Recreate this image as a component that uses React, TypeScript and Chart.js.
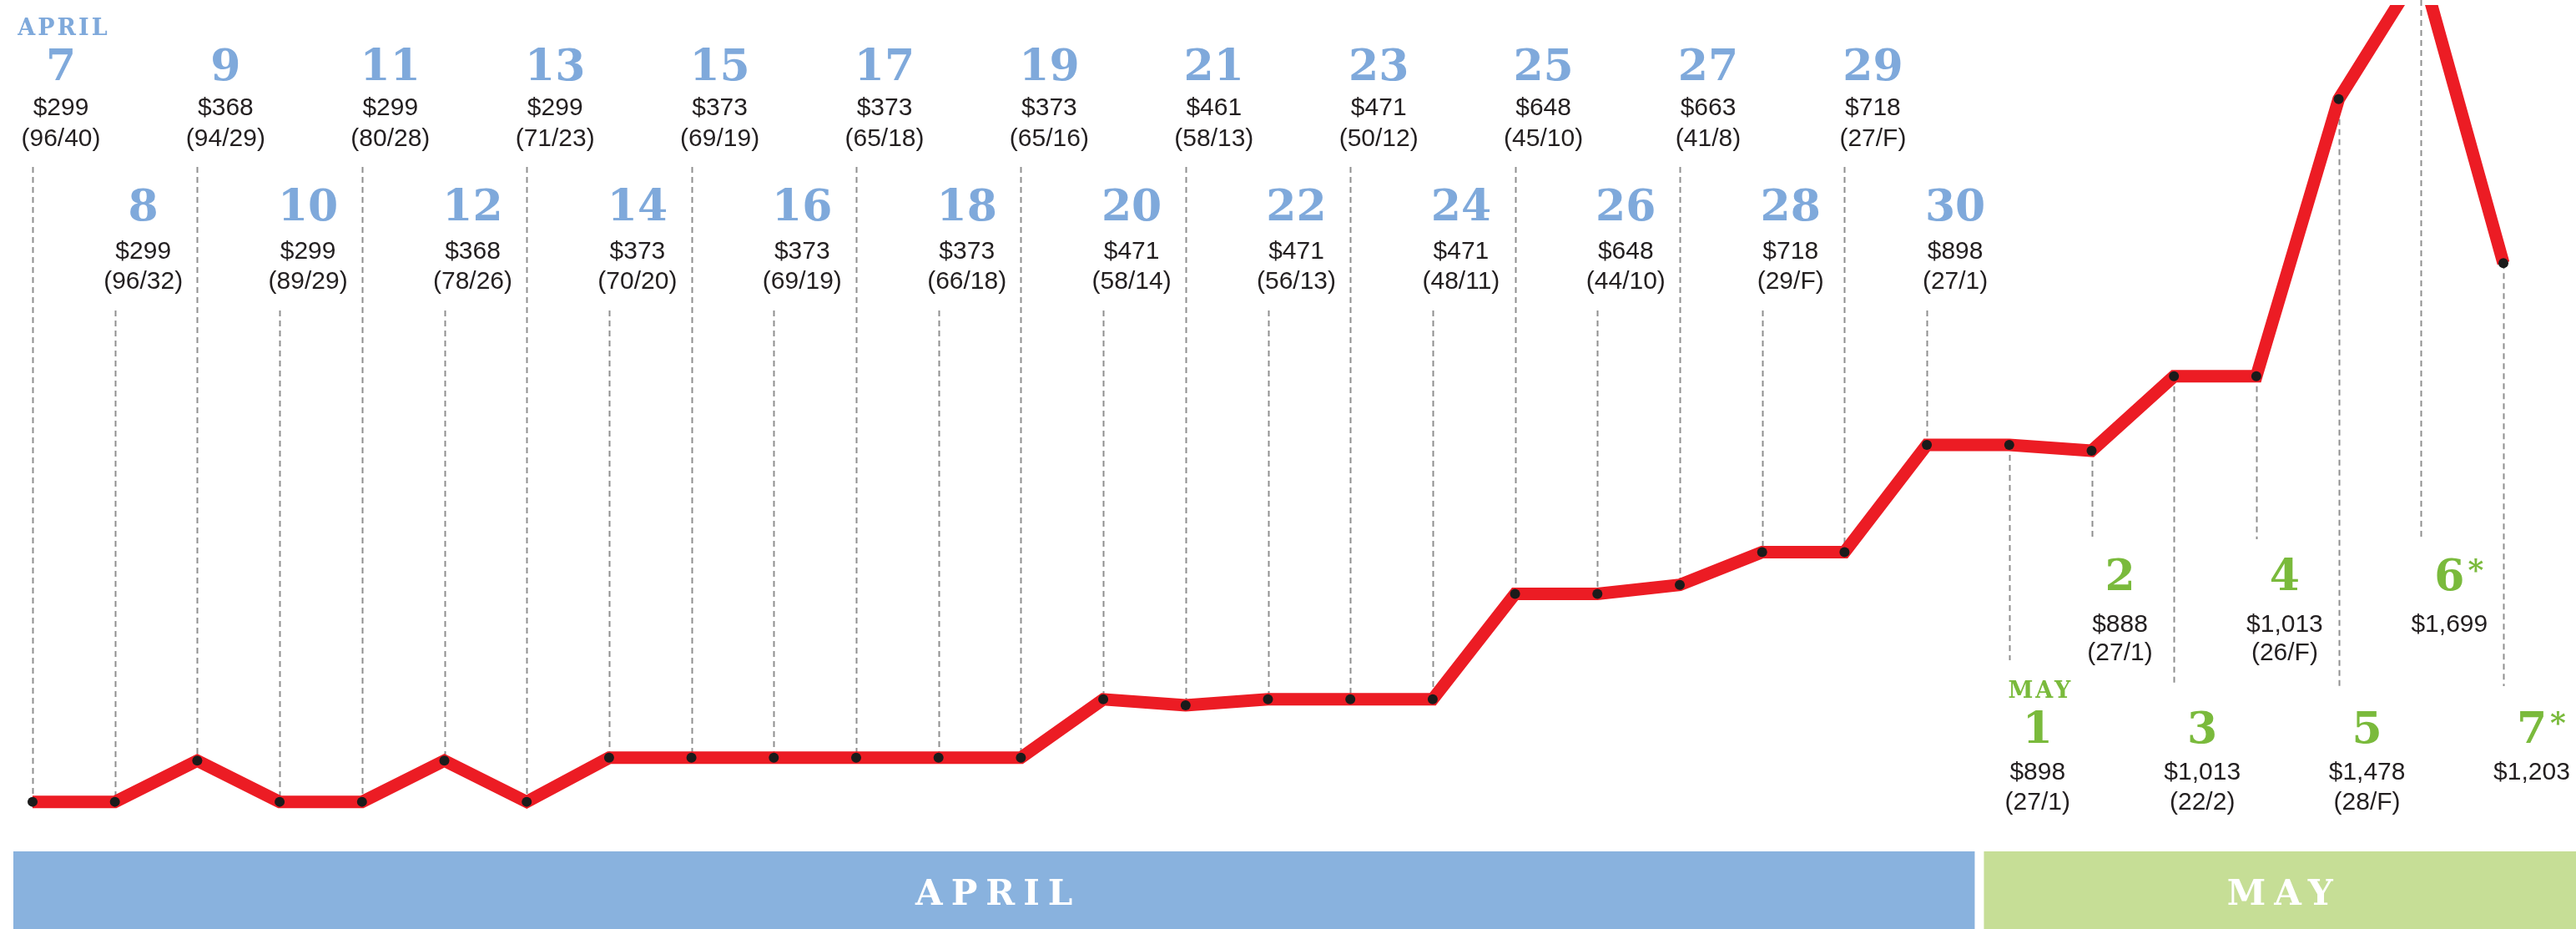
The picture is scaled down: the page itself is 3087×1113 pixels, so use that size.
import React, { useEffect, useRef } from 'react';
import { Chart, registerables } from 'chart.js';

Chart.register(...registerables);

// ---- data ----
const dayLabels = [
  '7', '8', '9', '10', '11', '12', '13', '14', '15', '16', '17', '18', '19', '20', '21', '22', '23', '24',
  '25', '26', '27', '28', '29', '30',
  '1', '2', '3', '4', '5', '6*', '7*',
];
const monthOfDay = [
  'APRIL', 'APRIL', 'APRIL', 'APRIL', 'APRIL', 'APRIL', 'APRIL', 'APRIL', 'APRIL', 'APRIL', 'APRIL', 'APRIL',
  'APRIL', 'APRIL', 'APRIL', 'APRIL', 'APRIL', 'APRIL', 'APRIL', 'APRIL', 'APRIL', 'APRIL', 'APRIL', 'APRIL',
  'MAY', 'MAY', 'MAY', 'MAY', 'MAY', 'MAY', 'MAY',
];
const fares = [
  299, 299, 368, 299, 299, 368, 299, 373, 373, 373, 373, 373, 373, 471, 461, 471, 471, 471,
  648, 648, 663, 718, 718, 898,
  898, 888, 1013, 1013, 1478, 1699, 1203,
];
const records = [
  '96/40', '96/32', '94/29', '89/29', '80/28', '78/26', '71/23', '70/20', '69/19', '69/19', '65/18', '66/18',
  '65/16', '58/14', '58/13', '56/13', '50/12', '48/11', '45/10', '44/10', '41/8', '29/F', '27/F', '27/1',
  '27/1', '27/1', '22/2', '26/F', '28/F', '', '',
];
const bandLabels = ['APRIL', 'MAY'];

// ---- styles ----
const RED = '#ec1c24';
const BLUE_TEXT = '#7fa9db';
const GREEN_TEXT = '#7aba3c';
const BLUE_BAND = '#89b2de';
const GREEN_BAND = '#c6de96';
const INK = '#231f20';
const SERIF = '"DejaVu Serif", "Liberation Serif", serif';
const SANS = '"Liberation Sans", Arial, sans-serif';

function drawSpaced(ctx: CanvasRenderingContext2D, text: string, x: number, y: number, spacing: number) {
  (ctx as any).letterSpacing = spacing + 'px';
  ctx.textAlign = 'center';
  ctx.fillText(text, x + spacing / 2, y);
  (ctx as any).letterSpacing = '0px';
}

const annotate = {
  id: 'annotate',
  beforeDatasetsDraw(chart: any) {
    const ctx: CanvasRenderingContext2D = chart.ctx;
    const xs = chart.scales.x;
    const ys = chart.scales.y;
    ctx.save();
    // month bands
    const split = xs.getPixelForValue(23.5);
    const left = xs.getPixelForValue(0) - 23;
    ctx.fillStyle = BLUE_BAND;
    ctx.fillRect(left, 1020, split + 8 - left, 93);
    ctx.fillStyle = GREEN_BAND;
    ctx.fillRect(split + 19, 1020, chart.width - (split + 19), 93);
    ctx.fillStyle = '#ffffff';
    ctx.font = 'bold 42px ' + SERIF;
    ctx.textBaseline = 'alphabetic';
    drawSpaced(ctx, bandLabels[0], (left + split + 8) / 2, 1084, 10);
    drawSpaced(ctx, bandLabels[1], (split + 19 + chart.width) / 2, 1084, 10);

    // dashed leader lines
    ctx.setLineDash([7, 5]);
    ctx.strokeStyle = '#8f8f8f';
    ctx.lineWidth = 2;
    fares.forEach((v, i) => {
      const x = Math.round(xs.getPixelForValue(i)) + 0.5;
      const y = ys.getPixelForValue(v);
      let y0: number;
      let y1: number;
      if (monthOfDay[i] === 'APRIL') {
        y0 = i % 2 === 0 ? 200 : 372;
        y1 = y;
      } else {
        const k = i - 24;
        y0 = Math.max(y, 0);
        y1 = k % 2 === 0 ? (k === 0 ? 791 : 822) : 646;
      }
      ctx.beginPath();
      ctx.moveTo(x, y0);
      ctx.lineTo(x, y1);
      ctx.stroke();
    });
    ctx.restore();
  },
  afterDatasetsDraw(chart: any) {
    const ctx: CanvasRenderingContext2D = chart.ctx;
    const xs = chart.scales.x;
    ctx.save();
    ctx.textBaseline = 'alphabetic';
    ctx.textAlign = 'center';
    fares.forEach((v, i) => {
      const cx = xs.getPixelForValue(i) + 34;
      const april = monthOfDay[i] === 'APRIL';
      let dayB: number, priceB: number, recB: number;
      if (april) {
        if (i % 2 === 0) { dayB = 96; priceB = 138; recB = 175; }
        else { dayB = 264; priceB = 310; recB = 346; }
      } else {
        const k = i - 24;
        if (k % 2 === 0) { dayB = 890; priceB = 934; recB = 970; }
        else { dayB = 707; priceB = 757; recB = 791; }
      }
      const color = april ? BLUE_TEXT : GREEN_TEXT;
      // month name above first day
      if (i === 0 || monthOfDay[i] !== monthOfDay[i - 1]) {
        ctx.fillStyle = color;
        ctx.font = 'bold 27px ' + SERIF;
        drawSpaced(ctx, monthOfDay[i], cx + 2, dayB - 54, 3);
      }
      const label = dayLabels[i];
      const star = label.endsWith('*');
      const num = star ? label.slice(0, -1) : label;
      ctx.fillStyle = color;
      ctx.font = 'bold 52px ' + SERIF;
      ctx.textAlign = 'center';
      ctx.fillText(num, cx, dayB);
      if (star) {
        const w = ctx.measureText(num).width;
        ctx.font = 'bold 36px ' + SERIF;
        ctx.textAlign = 'left';
        ctx.fillText('*', cx + w / 2 + 4, dayB - 12);
        ctx.textAlign = 'center';
      }
      ctx.fillStyle = INK;
      ctx.font = '30px ' + SANS;
      ctx.fillText('$' + v.toLocaleString('en-US'), cx, priceB);
      if (records[i]) ctx.fillText('(' + records[i] + ')', cx, recB);
    });
    ctx.restore();
  },
};

export default function App() {
  const ref = useRef<HTMLCanvasElement | null>(null);
  useEffect(() => {
    if (!ref.current) return;
    const chart = new Chart(ref.current, {
      type: 'line',
      data: {
        labels: dayLabels.map((d, i) => monthOfDay[i] + ' ' + d),
        datasets: [
          {
            data: fares,
            borderColor: RED,
            borderWidth: 15,
            tension: 0,
            pointRadius: 6,
            pointBackgroundColor: '#1b1b1b',
            pointBorderWidth: 0,
            fill: false,
          },
        ],
      },
      options: {
        responsive: false,
        animation: false,
        layout: { padding: { left: 39, right: 87, top: 0, bottom: 0 } },
        plugins: { legend: { display: false }, tooltip: { enabled: false } },
        scales: {
          x: { type: 'category', display: false, offset: false },
          y: { type: 'linear', display: false, min: 94, max: 1636 },
        },
      },
      plugins: [annotate],
    });
    return () => chart.destroy();
  }, []);
  return (
    <div style={{ position: 'absolute', left: 0, top: 0, width: 3087, height: 1113, background: '#fff' }}>
      <canvas ref={ref} width={3087} height={1113} style={{ display: 'block' }} />
    </div>
  );
}
